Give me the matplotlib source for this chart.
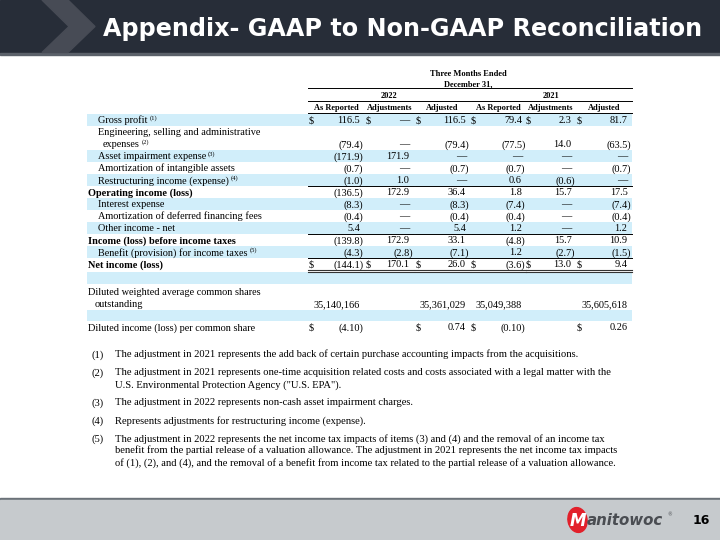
import matplotlib
matplotlib.use("Agg")
import matplotlib.pyplot as plt
from matplotlib.patches import Rectangle, Polygon, Ellipse

# ---------------- data ----------------
title = "Appendix- GAAP to Non-GAAP Reconciliation"
period_header = ["Three Months Ended", "December 31,"]
years = ["2022", "2021"]
column_headers = ["As Reported", "Adjustments", "Adjusted",
                  "As Reported", "Adjustments", "Adjusted"]

row_labels = [
    "Gross profit",
    "Engineering, selling and administrative\n  expenses",
    "Asset impairment expense",
    "Amortization of intangible assets",
    "Restructuring income (expense)",
    "Operating income (loss)",
    "Interest expense",
    "Amortization of deferred financing fees",
    "Other income - net",
    "Income (loss) before income taxes",
    "Benefit (provision) for income taxes",
    "Net income (loss)",
    "",
    "Diluted weighted average common shares\n  outstanding",
    "",
    "Diluted income (loss) per common share",
]
row_notes = ["(1)", "(2)", "(3)", "", "(4)", "", "", "", "", "", "(5)", "", "", "", "", ""]
row_kinds = ["money"] * 12 + ["blank", "shares", "blank", "eps"]

as_reported_2022 = [116.5, -79.4, -171.9, -0.7, -1.0, -136.5, -8.3, -0.4, 5.4, -139.8, -4.3, -144.1,
                    None, 35140166, None, -4.10]
adjustments_2022 = [0, 0, 171.9, 0, 1.0, 172.9, 0, 0, 0, 172.9, -2.8, 170.1,
                    None, None, None, None]
adjusted_2022 = [116.5, -79.4, 0, -0.7, 0, 36.4, -8.3, -0.4, 5.4, 33.1, -7.1, 26.0,
                 None, 35361029, None, 0.74]
as_reported_2021 = [79.4, -77.5, 0, -0.7, 0.6, 1.8, -7.4, -0.4, 1.2, -4.8, 1.2, -3.6,
                    None, 35049388, None, -0.10]
adjustments_2021 = [2.3, 14.0, 0, 0, -0.6, 15.7, 0, 0, 0, 15.7, -2.7, 13.0,
                    None, None, None, None]
adjusted_2021 = [81.7, -63.5, 0, -0.7, 0, 17.5, -7.4, -0.4, 1.2, 10.9, -1.5, 9.4,
                 None, 35605618, None, 0.26]
columns = [as_reported_2022, adjustments_2022, adjusted_2022,
           as_reported_2021, adjustments_2021, adjusted_2021]

footnotes = [
    ("(1)", ["The adjustment in 2021 represents the add back of certain purchase accounting impacts from the acquisitions."]),
    ("(2)", ["The adjustment in 2021 represents one-time acquisition related costs and costs associated with a legal matter with the",
             "U.S. Environmental Protection Agency (\"U.S. EPA\")."]),
    ("(3)", ["The adjustment in 2022 represents non-cash asset impairment charges."]),
    ("(4)", ["Represents adjustments for restructuring income (expense)."]),
    ("(5)", ["The adjustment in 2022 represents the net income tax impacts of items (3) and (4) and the removal of an income tax",
             "benefit from the partial release of a valuation allowance. The adjustment in 2021 represents the net income tax impacts",
             "of (1), (2), and (4), and the removal of a benefit from income tax related to the partial release of a valuation allowance."]),
]
page_number = "16"
brand = "anitowoc"


def fmt(v, kind):
    if v is None:
        return ""
    if kind == "shares":
        return f"{v:,.0f}"
    if v == 0:
        return "\u2014"
    dec = 2 if kind == "eps" else 1
    s = f"{abs(v):,.{dec}f}"
    return f"({s})" if v < 0 else s


# ---------------- layout / style ----------------
SERIF = "Liberation Serif"
FS = 7.4
FFS = 7.6
HFS = 6.0
BAND = "#d1eefa"

row_y = [120, (132, 144), 156, 168, 180, 192, 204, 216, 228, 240, 252, 264,
         277.5, (291.5, 303.5), 315.5, 327]
row_span = [(113.5, 126), (126, 150), (150, 162), (162, 174), (174, 186), (186, 198),
            (198, 210), (210, 222), (222, 234), (234, 246), (246, 258), (258, 271),
            (271.5, 283.5), (283.5, 309.5), (309.5, 321), (321, 333)]
shaded = [True, False, True, False, True, False, True, False, True, False, True, False,
          True, False, True, False]
bold_rows = {5, 9, 11}
indent_rows = {0, 1, 2, 3, 4, 6, 7, 8, 10}
single_ul = {4, 8, 10}
double_ul = {11}
dollar_cols = {0: range(6), 11: range(6), 15: [0, 2, 3, 5]}

paren_right = [363.5, 413, 469.5, 525.5, 575, 631]
dollar_x = [309, 365.5, 415.5, 471, 525.5, 576.5]
seg_start = [308, 365, 415, 471, 526, 577]
seg_end = [364, 414, 470, 525.5, 576, 632]
PAREN_W = 3.6

fig = plt.figure(figsize=(7.2, 5.4), dpi=100)
ax = fig.add_axes([0, 0, 1, 1])
ax.set_xlim(0, 720)
ax.set_ylim(540, 0)
ax.axis("off")


def fit_width(txt, target, base):
    fig.canvas.draw()
    w = txt.get_window_extent().width
    txt.set_fontsize(base * target / w)


# header bar
ax.add_patch(Rectangle((0, 0), 720, 52.5, color="#272d38", zorder=1))
ax.add_patch(Rectangle((0, 52.5), 720, 2.5, color="#5b616a", zorder=1))
ax.add_patch(Polygon([(42, 0), (68, 0), (95, 26.5), (68, 52.5), (42, 52.5), (69, 26.5)],
                     closed=True, color="#474b55", zorder=2))
t = ax.text(103, 29, title, color="white", fontsize=17, fontweight="bold",
            family="DejaVu Sans", ha="left", va="center", zorder=3)
fit_width(t, 600, 17)

# footer
ax.add_patch(Rectangle((0, 497.5), 720, 2.5, color="#6b7279", zorder=1))
ax.add_patch(Rectangle((0, 500), 720, 40, color="#c6cacd", zorder=1))
ax.add_patch(Ellipse((577.5, 520), 19, 25, angle=-10, color="#e2202a", zorder=3))
ax.text(577.5, 520.5, "M", color="white", fontsize=12, fontweight="bold", style="italic",
        family="DejaVu Sans", ha="center", va="center", zorder=4)
bt = ax.text(587, 520.5, brand, color="#4a4d52", fontsize=9.6, fontweight="bold", style="italic",
             family="DejaVu Sans", ha="left", va="center", zorder=4)
fit_width(bt, 77, 9.6)
ax.text(667, 515, "\u00ae", color="#4a4d52", fontsize=3.5, ha="left", va="center", zorder=4)
ax.text(710, 521, page_number, color="black", fontsize=9, fontweight="bold",
        family="DejaVu Sans", ha="right", va="center", zorder=4)

# table header
ax.text(468, 74, period_header[0], fontsize=HFS, fontweight="bold", family=SERIF,
        ha="center", va="center")
ax.text(468, 84, period_header[1], fontsize=HFS, fontweight="bold", family=SERIF,
        ha="center", va="center")
ax.plot([308, 632], [88, 88], color="black", lw=0.7)
ax.text(389, 96, years[0], fontsize=HFS, fontweight="bold", family=SERIF, ha="center", va="center")
ax.text(551, 96, years[1], fontsize=HFS, fontweight="bold", family=SERIF, ha="center", va="center")
ax.plot([308, 470], [101, 101], color="black", lw=0.7)
ax.plot([471, 632], [101, 101], color="black", lw=0.7)
for c, h in enumerate(column_headers):
    cx = (seg_start[c] + seg_end[c]) / 2.0
    ax.text(cx, 107.7, h, fontsize=HFS, fontweight="bold", family=SERIF, ha="center", va="center")
    ax.plot([seg_start[c], seg_end[c]], [112.5, 112.5], color="black", lw=0.7)

# body
sup_jobs = []
for r, label in enumerate(row_labels):
    y0, y1 = row_span[r]
    if shaded[r]:
        ax.add_patch(Rectangle((87, y0), 632 - 87, y1 - y0, color=BAND, zorder=0, lw=0))
    ys = row_y[r]
    ylines = list(ys) if isinstance(ys, tuple) else [ys]
    weight = "bold" if r in bold_rows else "normal"
    lx = 98 if r in indent_rows else 88
    if label:
        lines = label.split("\n")
        for i, ln in enumerate(lines):
            x = lx if i == 0 else lx + (5 if r in indent_rows else 7)
            tt = ax.text(x, ylines[i] + 3.4, ln.strip(), fontsize=FS, fontweight=weight,
                         family=SERIF, ha="left", va="baseline")
            if i == len(lines) - 1 and row_notes[r]:
                sup_jobs.append((tt, ylines[i], row_notes[r]))
    yv = ylines[-1] + 3.4
    kind = row_kinds[r]
    if kind != "blank":
        for c in range(6):
            s = fmt(columns[c][r], kind)
            if s:
                xr = paren_right[c] if s.startswith("(") else paren_right[c] - PAREN_W
                ax.text(xr, yv, s, fontsize=FS, family=SERIF, ha="right", va="baseline")
        if r in dollar_cols:
            for c in dollar_cols[r]:
                ax.text(dollar_x[c], yv, "$", fontsize=FS, family=SERIF, ha="left", va="baseline")
    if r in single_ul:
        for c in range(6):
            ax.plot([seg_start[c], seg_end[c]], [y1, y1], color="black", lw=0.7)
    if r in double_ul:
        for c in range(6):
            ax.plot([seg_start[c], seg_end[c]], [y1 - 1.2, y1 - 1.2], color="#333333", lw=0.8)
            ax.plot([seg_start[c], seg_end[c]], [y1 + 0.6, y1 + 0.6], color="#333333", lw=0.8)

# superscript note markers placed after the label text
fig.canvas.draw()
for tt, y, note in sup_jobs:
    x_end = tt.get_window_extent().x1
    ax.text(x_end + 2.0, y - 0.5, note, fontsize=4.8, family=SERIF, ha="left", va="baseline")

# footnotes
fy = [[354], [372, 384], [402], [420], [438, 450, 462]]
for (num, lines), ys in zip(footnotes, fy):
    ax.text(92, ys[0] + 3.4, num, fontsize=FFS, family=SERIF, ha="left", va="baseline")
    for ln, y in zip(lines, ys):
        ax.text(115, y + 3.4, ln, fontsize=FFS, family=SERIF, ha="left", va="baseline")

fig.savefig("out.png", dpi=100)
